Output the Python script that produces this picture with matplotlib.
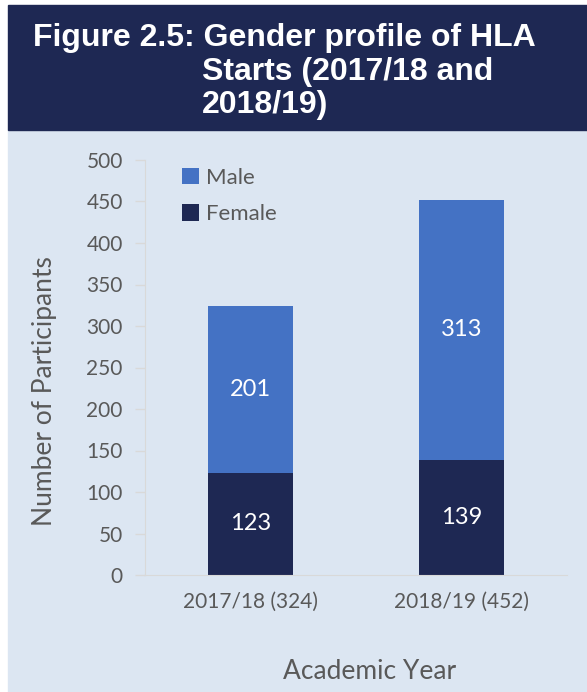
import numpy as np
import matplotlib.pyplot as plt
from matplotlib.patches import Rectangle

years = ["2017/18 (324)", "2018/19 (452)"]
female = [123, 139]
male = [201, 313]

navy = "#1e2853"
blue = "#4472c4"
bg = "#dce6f2"
grey = "#595959"

plt.rcParams["font.family"] = ["Lato", "DejaVu Sans"]

fig = plt.figure(figsize=(5.87, 6.92), dpi=100)
W, H = 587, 692

# background panels
fig.patches.append(Rectangle((8 / W, 0), 1 - 8 / W, 1 - 130 / H, transform=fig.transFigure,
                             color=bg, zorder=-2))
fig.patches.append(Rectangle((8 / W, 1 - 130 / H), 1 - 8 / W, 125 / H, transform=fig.transFigure,
                             color=navy, zorder=-2))

tfont = dict(family="Liberation Sans", weight="bold", color="white", fontsize=23, va="center")
fig.text(33 / W, 1 - 38 / H, "Figure 2.5: Gender profile of HLA", **tfont)
fig.text(202 / W, 1 - 72 / H, "Starts (2017/18 and", **tfont)
fig.text(202 / W, 1 - 105 / H, "2018/19)", **tfont)

ax = fig.add_axes([145 / W, 1 - 575 / H, 422 / W, 415 / H], zorder=2)
ax.set_facecolor("none")
x = np.arange(len(years))
b1 = ax.bar(x, female, width=0.4, color=navy, label="Female")
b2 = ax.bar(x, male, width=0.4, bottom=female, color=blue, label="Male")

for bars, vals, bot in [(b1, female, [0, 0]), (b2, male, female)]:
    for r, v, b in zip(bars, vals, bot):
        ax.text(r.get_x() + r.get_width() / 2, b + v / 2, str(v), ha="center", va="center",
                color="white", fontsize=17)

ax.set_xlim(-0.5, 1.5)
ax.set_ylim(0, 500)
ax.set_yticks(range(0, 501, 50))
ax.set_xticks(x)
ax.set_xticklabels(years)
ax.tick_params(axis="y", colors="#d9d9d9", labelcolor=grey, labelsize=15, length=7, width=1, pad=9)
ax.tick_params(axis="x", length=0, labelcolor=grey, labelsize=15, pad=12)
for s in ["top", "right"]:
    ax.spines[s].set_visible(False)
ax.spines["left"].set_color("#d9d9d9")
ax.spines["bottom"].set_color("#d9d9d9")
ax.set_ylabel("Number of Participants", fontsize=19, color=grey)
ax.yaxis.set_label_coords(-88 / 422, 0.5 - 24 / 415)
ax.set_xlabel("Academic Year", fontsize=19, color=grey)
ax.xaxis.set_label_coords(225 / 422, -84 / 415)

h, l = ax.get_legend_handles_labels()
ax.legend(h[::-1], l[::-1], loc="upper left", bbox_to_anchor=(0.04, 1.03), frameon=False,
          fontsize=16, labelcolor=grey, handlelength=0.75, handleheight=0.75, labelspacing=0.75,
          handletextpad=0.35)

fig.savefig("out.png", dpi=100)
